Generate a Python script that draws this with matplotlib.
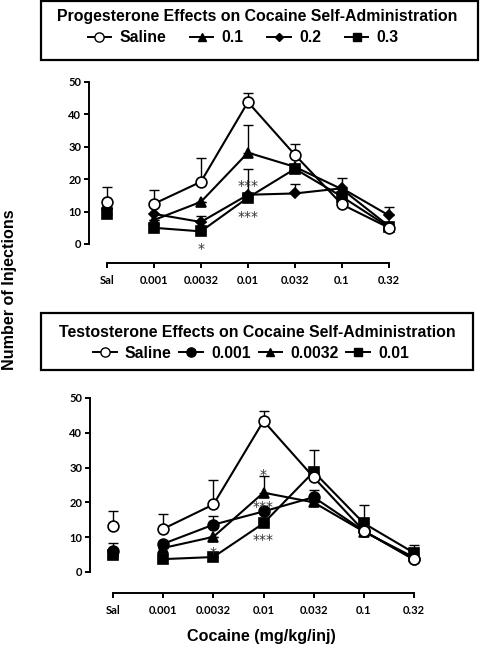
import matplotlib
matplotlib.use("Agg")
import matplotlib.pyplot as plt
from matplotlib.patches import Rectangle
from matplotlib.lines import Line2D

W, H = 481, 648
doses = ["Sal", "0.001", "0.0032", "0.01", "0.032", "0.1", "0.32"]

# Progesterone panel (mean, upper error bar length)
prog_labels = ["Saline", "0.1", "0.2", "0.3"]
prog_markers = ["o", "^", "D", "s"]
prog_saline = [13.1, 12.4, 19.2, 43.8, 27.5, 12.2, 5.0]
prog_saline_err = [4.4, 4.4, 7.2, 2.8, 3.3, 0, 0]
prog_01 = [12.0, 7.4, 13.0, 28.2, 23.8, 16.9, 5.5]
prog_01_err = [0, 0, 0, 8.5, 0, 0, 0]
prog_02 = [11.0, 9.3, 6.8, 15.2, 15.6, 17.2, 8.8]
prog_02_err = [0, 0, 1.9, 0, 2.8, 3.2, 2.7]
prog_03 = [9.4, 5.0, 3.9, 14.3, 23.2, 14.6, 5.2]
prog_03_err = [0, 0, 0, 8.7, 0, 0, 0]

# Testosterone panel
test_labels = ["Saline", "0.001", "0.0032", "0.01"]
test_markers = ["o", "o", "^", "s"]
test_saline = [13.2, 12.4, 19.4, 43.4, 27.2, 11.8, 3.6]
test_saline_err = [4.2, 4.4, 7.0, 3.0, 0, 0, 0]
test_0001 = [6.0, 8.1, 13.6, 17.4, 21.5, 11.8, 3.6]
test_0001_err = [2.2, 0, 2.5, 0, 2.0, 0, 0]
test_00032 = [5.5, 6.9, 10.1, 22.8, 20.0, 11.6, 4.2]
test_00032_err = [0, 0, 0, 4.8, 0, 0, 0]
test_001 = [4.9, 3.7, 4.3, 14.0, 28.8, 14.0, 5.5]
test_001_err = [0, 0, 0, 0, 6.3, 5.2, 2.2]

prog_series = [(prog_saline, prog_saline_err), (prog_01, prog_01_err),
               (prog_02, prog_02_err), (prog_03, prog_03_err)]
test_series = [(test_saline, test_saline_err), (test_0001, test_0001_err),
               (test_00032, test_00032_err), (test_001, test_001_err)]

# significance annotations: (dose index, y, text)
prog_stars = [(2, -1.6, "*"), (3, 18.0, "***"), (3, 8.3, "***")]
test_stars = [(2, 5.4, "*"), (3, 28.0, "*"), (3, 18.6, "***"), (3, 9.2, "***")]

plt.rcParams["font.family"] = ["Liberation Sans", "DejaVu Sans"]
fig = plt.figure(figsize=(W / 100, H / 100), dpi=100)


def panel(rect, series, markers, stars, y0px, x_axis_px, xleft):
    ax = fig.add_axes(rect)
    xs = list(range(len(doses)))
    handles = []
    for k, ((vals, errs), m) in enumerate(zip(series, markers)):
        filled = k != 0
        ms = {"o": 7.8, "^": 6.8, "D": 5.2, "s": 7.2}[m]
        ax.plot(xs[1:], vals[1:], color="black", lw=1.5, zorder=2, clip_on=False)
        lo = [0] * len(errs)
        ax.errorbar(xs, vals, yerr=[lo, errs], fmt="none", ecolor="black",
                    elinewidth=1.0, capsize=3.5, capthick=1.0, zorder=1, clip_on=False)
        ax.plot(xs, vals, linestyle="none", marker=m, ms=ms,
                mfc="black" if filled else "white", mec="black", mew=1.2,
                zorder=3 if filled else 4, clip_on=False)
        handles.append(Line2D([], [], color="black", lw=1.4, marker=m, ms=ms * 0.85,
                              mfc="black" if filled else "white", mec="black"))
    for i, y, t in stars:
        ax.text(i, y, t, ha="center", va="center", fontsize=10, color="#333333",
                family="DejaVu Sans")
    ax.set_ylim(0, 50)
    ax.set_xlim(xleft, 6.1)
    for s in ["top", "right"]:
        ax.spines[s].set_visible(False)
    ax.spines["left"].set_bounds(0, 50)
    ax.spines["left"].set_linewidth(1.4)
    ax.spines["bottom"].set_position(("outward", (x_axis_px - y0px) * 0.72))
    ax.spines["bottom"].set_bounds(0, 6)
    ax.spines["bottom"].set_linewidth(1.4)
    ax.set_yticks([0, 10, 20, 30, 40, 50])
    ax.set_xticks(xs)
    ax.set_xticklabels(doses)
    ax.tick_params(axis="y", direction="out", length=3.5, width=1.4, pad=2)
    ax.tick_params(axis="x", direction="out", length=3.5, width=1.4, pad=5)
    for lab in ax.get_xticklabels() + ax.get_yticklabels():
        lab.set_fontfamily("Lato")
        lab.set_fontweight("bold")
        lab.set_fontsize(8)
    return ax, handles


ax1, h1 = panel([89 / W, 1 - 244 / H, (393.7 - 89) / W, 162 / H],
                prog_series, prog_markers, prog_stars, 244, 263, -0.38)
ax2, h2 = panel([90 / W, 1 - 572 / H, (419 - 90) / W, 174 / H],
                test_series, test_markers, test_stars, 572, 593, -0.46)


def legend_box(x0, y0, x1, y1, title, handles, labels, ty, ly, lx, colsp):
    fig.patches.append(Rectangle((x0 / W, 1 - y1 / H), (x1 - x0) / W, (y1 - y0) / H,
                                 transform=fig.transFigure, fill=False,
                                 edgecolor="black", lw=1.6))
    fig.text(257 / W, 1 - (y0 + ty) / H, title, ha="center", va="center",
             fontsize=11.4, fontweight="bold")
    fig.legend(handles, labels, loc="center", ncol=4, frameon=False,
               bbox_to_anchor=(lx / W, 1 - (y0 + ly) / H),
               prop=dict(weight="bold", size=11.4), handlelength=1.5,
               handletextpad=0.5, columnspacing=colsp, borderpad=0)


legend_box(41, 1, 478, 60, "Progesterone Effects on Cocaine Self-Administration",
           h1, prog_labels, 16, 37, 243, 1.5)
legend_box(41, 313, 473, 370, "Testosterone Effects on Cocaine Self-Administration",
           h2, test_labels, 19, 40, 251, 0.5)

fig.text(10 / W, 1 - 290 / H, "Number of Injections", rotation=90, ha="center",
         va="center", fontsize=11.6, fontweight="bold")
fig.text(261 / W, 1 - 636 / H, "Cocaine (mg/kg/inj)", ha="center", va="center",
         fontsize=11.6, fontweight="bold")

fig.savefig("out.png", dpi=100)
